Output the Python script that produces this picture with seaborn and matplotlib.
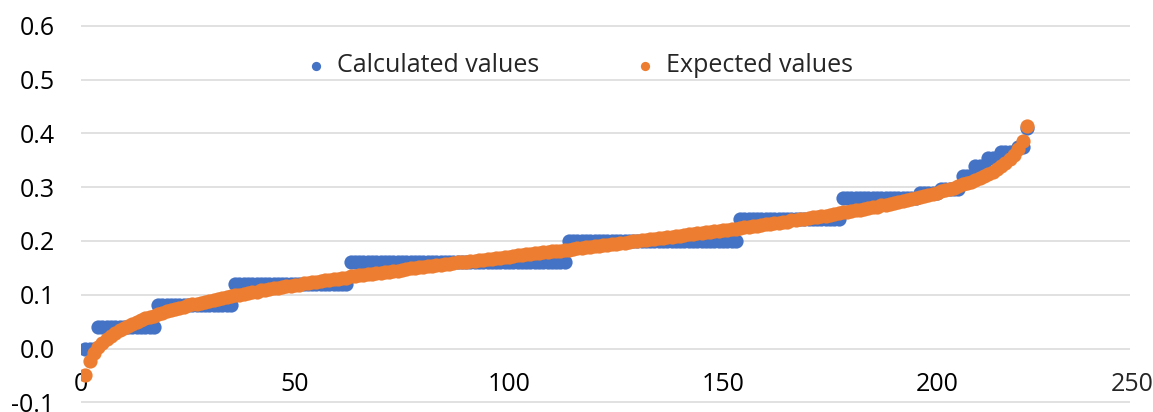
import numpy as np
import pandas as pd
import matplotlib
matplotlib.use('Agg')
import matplotlib.pyplot as plt
import seaborn as sns

# calculated values: step levels and how many points sit on each level
calc_levels = [0.00, 0.04, 0.08, 0.12, 0.16, 0.20, 0.24, 0.28, 0.29, 0.297,
               0.32, 0.34, 0.355, 0.365, 0.374, 0.41]
calc_counts = [3, 14, 18, 27, 51, 40, 24, 18, 5, 5, 3, 3, 3, 4, 2, 1]

# expected values (points 1..221)
expected = [
    -0.050, -0.023, -0.008, 0.003, 0.011, 0.018, 0.024, 0.029, 0.034, 0.038,
    0.042, 0.046, 0.049, 0.053, 0.056, 0.059, 0.061, 0.064, 0.066, 0.069,
    0.071, 0.073, 0.075, 0.078, 0.080, 0.082, 0.083, 0.085, 0.087, 0.089,
    0.091, 0.092, 0.094, 0.096, 0.097, 0.099, 0.100, 0.102, 0.103, 0.105,
    0.106, 0.108, 0.109, 0.110, 0.112, 0.113, 0.114, 0.116, 0.117, 0.118,
    0.119, 0.121, 0.122, 0.123, 0.124, 0.126, 0.127, 0.128, 0.129, 0.130,
    0.131, 0.132, 0.134, 0.135, 0.136, 0.137, 0.138, 0.139, 0.140, 0.141,
    0.142, 0.143, 0.144, 0.145, 0.146, 0.147, 0.149, 0.150, 0.151, 0.152,
    0.153, 0.154, 0.155, 0.156, 0.157, 0.158, 0.159, 0.160, 0.160, 0.161,
    0.162, 0.163, 0.164, 0.165, 0.166, 0.167, 0.168, 0.169, 0.170, 0.171,
    0.172, 0.173, 0.174, 0.175, 0.176, 0.177, 0.178, 0.179, 0.180, 0.181,
    0.181, 0.182, 0.183, 0.184, 0.185, 0.186, 0.187, 0.188, 0.189, 0.190,
    0.191, 0.192, 0.193, 0.194, 0.195, 0.196, 0.197, 0.198, 0.199, 0.200,
    0.201, 0.202, 0.203, 0.204, 0.205, 0.206, 0.207, 0.208, 0.209, 0.210,
    0.211, 0.212, 0.213, 0.214, 0.215, 0.216, 0.217, 0.218, 0.219, 0.220,
    0.221, 0.222, 0.223, 0.224, 0.225, 0.226, 0.227, 0.228, 0.230, 0.231,
    0.232, 0.233, 0.234, 0.235, 0.236, 0.238, 0.239, 0.240, 0.241, 0.242,
    0.244, 0.245, 0.246, 0.247, 0.249, 0.250, 0.251, 0.253, 0.254, 0.256,
    0.257, 0.258, 0.260, 0.261, 0.263, 0.264, 0.266, 0.267, 0.269, 0.271,
    0.272, 0.274, 0.276, 0.278, 0.280, 0.282, 0.284, 0.286, 0.288, 0.290,
    0.292, 0.294, 0.297, 0.299, 0.302, 0.305, 0.307, 0.310, 0.314, 0.317,
    0.321, 0.325, 0.329, 0.334, 0.339, 0.345, 0.352, 0.360, 0.371, 0.386,
    0.413,
]

x_ticks = [0, 50, 100, 150, 200]
y_ticks = [-0.1, 0.0, 0.1, 0.2, 0.3, 0.4, 0.5, 0.6]

calculated = np.repeat(calc_levels, calc_counts)
df = pd.DataFrame({
    'n': np.arange(1, len(expected) + 1),
    'Calculated values': calculated,
    'Expected values': expected,
})

sns.set_style('white')
plt.rcParams['font.family'] = ['Open Sans', 'DejaVu Sans']

fig = plt.figure(figsize=(11.53, 4.12), dpi=100)
ax = fig.add_axes([0.0703, 0.0215, 0.9097, 0.9180])

sns.scatterplot(data=df, x='n', y='Calculated values', color='#4472C4',
                s=105, linewidth=0, label='Calculated values', ax=ax, zorder=3)
sns.scatterplot(data=df, x='n', y='Expected values', color='#ED7D31',
                s=105, linewidth=0, label='Expected values', ax=ax, zorder=4)

ax.set_xlim(0, 245.1)
ax.set_ylim(-0.1015, 0.6015)
ax.set_yticks(y_ticks)
ax.set_yticklabels([f'{v:.1f}' for v in y_ticks])
ax.set_xticks(x_ticks)
ax.set_xlabel('')
ax.set_ylabel('')
ax.grid(axis='y', color='#d9d9d9', linewidth=1.1)
ax.grid(axis='x', visible=False)
for sp in ax.spines.values():
    sp.set_visible(False)
# x labels hang below the y = 0 line
ax.spines['bottom'].set_position(('data', 0))
ax.tick_params(axis='x', length=0, pad=17, labelsize=18, colors='#000000')
ax.tick_params(axis='y', length=0, pad=19, labelsize=18, colors='#000000')
ax.annotate('250', xy=(245.6, 0), xycoords='data', xytext=(0, -17),
            textcoords='offset points', ha='center', va='top', fontsize=18,
            annotation_clip=False)

ax.legend(loc='upper center', bbox_to_anchor=(0.474, 0.985), ncol=2,
          frameon=False, fontsize=18, markerscale=0.65, handlelength=1.0,
          handletextpad=0.35, columnspacing=3.7)

fig.savefig('out.png', dpi=100)
